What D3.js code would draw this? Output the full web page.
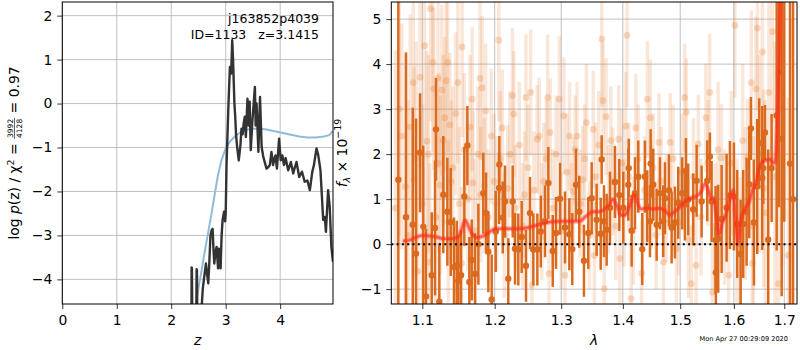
<!DOCTYPE html>
<html>
<head>
<meta charset="utf-8">
<script src="https://cdn.jsdelivr.net/npm/d3@7"></script>
<style>
body { margin: 0; background: #fff; }
svg text { font-family: "DejaVu Sans", sans-serif; }
</style>
</head>
<body>
<div id="chart"></div>
<script>
// ---- left panel: log p(z) and prior ----
const zGrid = [2.36,2.372,2.374,2.38,2.386,2.46,2.466,2.472,2.478,2.55,
  2.58,2.61,2.637,2.66,2.68,2.70,2.72,2.741,2.76,2.775,
  2.79,2.81,2.833,2.86,2.875,2.89,2.906,2.925,2.943,2.97,
  2.99,3.0,3.016,3.047,3.077,3.10,3.12,3.135,3.145,3.16,
  3.175,3.19,3.21,3.24,3.27,3.29,3.31,3.33,3.35,3.37,
  3.40,3.42,3.44,3.46,3.49,3.536,3.55,3.567,3.60,3.63,
  3.66,3.69,3.72,3.75,3.78,3.81,3.84,3.87,3.895,3.915,
  3.94,3.98,4.01,4.04,4.07,4.10,4.147,4.196,4.24,4.27,
  4.30,4.35,4.40,4.45,4.50,4.545,4.59,4.62,4.667,4.70,
  4.74,4.79,4.82,4.84,4.88,4.91,4.94,4.97];
const logPz = [-4.8,-4.8,-3.73,-3.75,-4.8,-4.8,-3.77,-3.8,-4.8,-4.8,
  -4.2,-3.9,-3.64,-3.9,-4.09,-3.6,-3.0,-2.88,-2.85,-3.3,
  -3.64,-3.4,-3.26,-3.75,-3.3,-3.4,-3.75,-3.0,-2.65,-2.46,
  -2.68,-2.5,-1.36,-0.15,0.83,0.68,1.44,1.0,0.6,0.0,
  -0.3,-0.7,-0.99,-1.29,-0.95,-0.57,-0.7,-0.45,-0.30,-0.76,
  0.11,-0.5,0.04,-1.06,-0.4,0.38,-0.5,0.0,-1.1,0.15,
  -0.99,-1.21,-1.35,-1.48,-1.45,-1.40,-1.1,-1.40,-1.25,-1.18,
  -1.48,-0.80,-1.29,-1.18,-1.40,-1.24,-1.52,-1.33,-1.59,-1.45,
  -1.33,-1.67,-1.55,-1.78,-1.75,-1.97,-1.55,-1.40,-1.02,-1.18,
  -1.52,-2.65,-2.58,-2.92,-1.97,-2.35,-3.26,-3.6];

const zPrior = [2.44,2.5,2.55,2.59,2.64,2.68,2.74,2.8,2.86,2.92,3.0,3.08,3.16,3.25,
  3.35,3.45,3.6,3.75,3.9,4.05,4.2,4.35,4.5,4.65,4.8,4.9,4.97];
const logPrior = [-4.7,-4.2,-3.85,-3.55,-3.2,-2.92,-2.5,-2.05,-1.62,-1.3,-1.02,-0.86,-0.76,-0.67,
  -0.61,-0.58,-0.57,-0.59,-0.63,-0.67,-0.71,-0.75,-0.77,-0.77,-0.75,-0.72,-0.62];

const zTicks = [0, 1, 2, 3, 4];
const pzTicks = [-4, -3, -2, -1, 0, 1, 2];

// ---- right panel: spectrum ----
// individual beams (faint)
const beamWave = [1.065,1.070,1.073,1.078,1.081,1.084,1.088,1.089,1.092,1.094,
  1.097,1.100,1.103,1.106,1.108,1.110,1.111,1.114,1.115,1.118,
  1.121,1.122,1.124,1.126,1.128,1.130,1.132,1.134,1.135,1.137,
  1.139,1.141,1.145,1.148,1.150,1.153,1.154,1.157,1.162,1.165,
  1.168,1.169,1.172,1.176,1.179,1.180,1.182,1.185,1.187,1.191,
  1.195,1.199,1.203,1.206,1.208,1.211,1.214,1.219,1.222,1.226,
  1.228,1.230,1.236,1.241,1.244,1.246,1.249,1.253,1.255,1.258,
  1.263,1.266,1.270,1.273,1.277,1.279,1.281,1.283,1.287,1.292,
  1.297,1.300,1.304,1.306,1.309,1.313,1.316,1.319,1.322,1.325,
  1.330,1.334,1.337,1.340,1.345,1.351,1.353,1.355,1.360,1.365,
  1.367,1.369,1.372,1.376,1.380,1.383,1.388,1.393,1.395,1.398,
  1.402,1.405,1.407,1.410,1.414,1.418,1.422,1.426,1.432,1.437,
  1.442,1.447,1.449,1.452,1.457,1.462,1.466,1.470,1.475,1.482,
  1.487,1.493,1.497,1.503,1.508,1.511,1.515,1.520,1.524,1.529,
  1.533,1.538,1.547,1.551,1.554,1.559,1.564,1.570,1.576,1.582,
  1.590,1.595,1.602,1.606,1.612,1.617,1.622,1.627,1.634,1.636,
  1.638,1.643,1.646,1.650,1.656,1.658,1.662,1.669,1.676,1.681,
  1.688,1.695,1.708,1.715];
const beamFlux = [0.8,3.0,2.40,1.28,0.2,2.6,3.59,1.43,1.9,-0.6,
  3.71,0.9,4.41,2.29,2.0,-0.40,5.23,4.04,3.45,0.6,
  3.69,1.8,1.31,3.42,2.3,2.81,3.63,4.04,0.5,2.65,
  1.39,1.7,2.9,3.59,0.9,-0.43,4.38,2.1,1.0,2.6,
  3.22,1.36,0.3,2.0,3.68,1.10,3.47,1.3,2.96,0.6,
  2.4,1.39,0.9,4.53,1.9,2.58,0.2,1.24,2.0,3.30,
  2.89,0.8,2.2,0.4,1.10,3.26,1.7,3.37,-0.91,1.2,
  2.33,2.4,0.5,1.39,1.9,3.26,-0.65,2.48,0.8,2.0,
  3.22,0.3,2.85,-0.69,1.6,2.40,0.6,1.17,2.1,2.40,
  0.9,1.43,1.9,2.70,0.2,2.55,-0.25,1.5,2.2,4.56,
  3.19,-0.99,2.83,1.0,2.3,1.39,0.4,2.33,-0.32,1.8,
  0.7,2.62,4.64,1.5,-1.21,0.3,2.58,1.9,-0.65,1.2,
  3.22,2.81,1.10,1.7,0.2,2.26,1.4,-0.40,0.8,2.26,
  1.9,-0.10,0.5,1.6,3.26,2.93,0.1,-0.88,1.5,-0.47,
  2.22,0.6,2.81,1.8,3.37,-1.07,0.4,2.1,1.92,0.6,
  -0.69,1.8,4.86,0.3,-0.10,2.3,0.9,1.92,3.59,-0.43,
  0.4,3.45,4.80,2.0,4.27,1.24,0.7,3.37,4.72,1.5,
  -0.88,3.0,-0.25,1.0];
const beamErr = [3.5,2.8,2.5,3.0,3.0,2.5,2.2,2.5,2.6,2.4,
  2.0,2.2,2.2,2.0,2.2,2.2,2.5,2.0,1.8,2.0,
  2.0,2.0,2.0,1.9,1.9,1.8,2.0,2.0,1.8,1.6,
  1.8,1.8,1.8,1.8,1.7,1.7,2.0,1.7,1.6,1.6,
  1.6,1.6,1.6,1.5,1.8,1.5,1.6,1.5,1.5,1.5,
  1.5,1.5,1.5,1.8,1.5,1.3,1.4,1.4,1.4,1.5,
  1.4,1.4,1.4,1.4,1.4,1.4,1.4,1.4,1.4,1.3,
  1.2,1.3,1.3,1.3,1.3,1.4,1.3,1.2,1.3,1.3,
  1.4,1.3,1.3,1.3,1.3,1.2,1.2,1.2,1.2,1.2,
  1.2,1.2,1.2,1.3,1.2,1.3,1.2,1.2,1.2,1.5,
  1.3,1.2,1.3,1.2,1.2,1.2,1.2,1.2,1.2,1.2,
  1.2,1.2,1.6,1.2,1.2,1.2,1.2,1.2,1.2,1.2,
  1.3,1.3,1.2,1.2,1.2,1.1,1.2,1.2,1.2,1.1,
  1.2,1.2,1.2,1.3,1.2,1.2,1.3,1.3,1.3,1.3,
  1.1,1.3,1.2,1.4,1.3,1.4,1.4,1.5,1.2,1.5,
  1.5,1.6,1.6,1.6,1.6,1.7,1.7,1.3,1.6,1.8,
  2.0,1.6,1.8,2.2,1.8,2.2,2.5,2.0,2.0,3.0,
  3.0,3.5,3.5,4.0];

// combined spectrum (dark)
const specWave = [1.0687,1.0786,1.0874,1.0917,1.0970,1.1013,1.1049,1.1125,1.1169,1.1182,
  1.1227,1.1281,1.1336,1.1382,1.1427,1.1465,1.1487,1.1524,1.1570,1.1612,
  1.1640,1.1673,1.1720,1.1767,1.1837,1.1876,1.1909,1.1957,1.2015,1.2063,
  1.2067,1.2117,1.2150,1.2198,1.2263,1.2297,1.2346,1.2396,1.2461,1.2521,
  1.2571,1.2632,1.2684,1.2749,1.2800,1.2868,1.2919,1.2981,1.3059,1.3127,
  1.3174,1.3233,1.3285,1.3360,1.3430,1.3485,1.3566,1.3632,1.3648,1.3686,
  1.3730,1.3785,1.3868,1.3940,1.4007,1.4092,1.4100,1.4149,1.4206,1.4262,
  1.4331,1.4377,1.4417,1.4464,1.4476,1.4521,1.4581,1.4639,1.4697,1.4727,
  1.4798,1.4846,1.4905,1.4964,1.5036,1.5085,1.5103,1.5145,1.5236,1.5299,
  1.5391,1.5495,1.5545,1.5577,1.5652,1.5657,1.5701,1.5766,1.5861,1.5924,
  1.6001,1.6064,1.6130,1.6180,1.6247,1.6298,1.6331,1.6390,1.6455,1.6495,
  1.6555,1.6575,1.6609,1.6675,1.6743,1.6845,1.6892,1.6947,1.7000,1.7117,
  1.7180];
const specFlux = [1.43,0.60,0.43,-0.21,2.03,0.39,-1.16,-0.69,0.36,2.55,
  -1.28,1.10,0.72,0.49,-0.51,-0.48,-0.81,-0.69,1.06,2.19,
  -0.84,-0.35,-0.66,0.00,1.13,0.69,-0.17,-1.23,0.28,1.25,
  1.77,0.59,0.95,-0.77,0.95,-0.10,-0.12,0.16,-0.48,0.69,
  -0.12,-0.12,0.28,0.51,1.36,-0.15,0.25,1.01,0.37,0.22,
  -0.11,1.32,0.72,-0.37,0.25,1.02,0.54,0.23,1.88,0.51,
  0.32,0.81,1.38,1.09,0.81,1.32,1.69,0.30,1.13,1.50,
  -0.11,1.50,0.84,0.51,1.79,1.32,0.43,1.13,0.51,1.02,
  1.20,0.37,0.48,0.92,1.13,0.88,1.63,0.99,0.77,1.41,
  0.95,1.41,1.95,0.95,0.09,-0.63,0.12,0.56,0.81,1.09,
  1.06,0.45,-0.22,0.45,0.72,1.33,2.57,0.48,1.28,2.24,
  1.47,1.69,2.48,0.10,1.69,2.86,3.82,2.34,5.5,1.79,
  1.0];
const specErr = [4.5,3.66,2.6,3.0,1.32,1.8,1.5,1.4,1.5,1.14,
  1.3,1.3,1.2,1.2,1.1,1.0,1.0,1.0,1.1,0.88,
  1.0,0.9,0.9,0.9,0.9,0.9,0.9,1.0,0.9,0.8,
  0.63,0.8,0.8,0.9,0.8,0.8,0.8,0.8,0.8,0.8,
  0.8,0.8,0.8,0.8,0.8,0.8,0.8,0.8,0.8,0.8,
  0.8,0.8,0.8,0.8,0.8,0.8,0.8,0.8,0.54,0.8,
  0.8,0.8,0.8,0.8,0.8,0.8,0.65,0.8,0.8,0.8,
  0.8,0.8,0.8,0.8,0.76,0.8,0.8,0.8,0.8,0.8,
  0.8,0.8,0.8,0.8,0.8,0.8,0.73,0.8,0.8,0.8,
  0.8,0.9,0.53,0.9,1.2,1.0,1.2,1.2,1.2,1.2,
  1.2,1.2,1.2,1.2,1.2,1.2,0.70,1.4,1.5,1.0,
  1.6,0.8,0.61,2.0,1.2,3.0,3.0,3.5,5.0,4.5,
  5.0];

// best-fit model
const modelWave = [1.0744,1.0839,1.0926,1.1013,1.1102,1.1191,1.1281,1.1417,1.1487,1.1533,
  1.1580,1.1626,1.1673,1.1744,1.1837,1.1909,1.2005,1.2127,1.2250,1.2373,
  1.2521,1.2672,1.2824,1.2978,1.3134,1.3292,1.3399,1.3505,1.3614,1.3696,
  1.3778,1.3833,1.3890,1.3974,1.4029,1.4114,1.4199,1.4256,1.4314,1.4429,
  1.4516,1.4633,1.4721,1.4810,1.4900,1.4990,1.5081,1.5172,1.5264,1.5324,
  1.5387,1.5448,1.5510,1.5573,1.5617,1.5667,1.5716,1.5780,1.5856,1.5919,
  1.5982,1.6034,1.6078,1.6125,1.6208,1.6292,1.6371,1.6450,1.6503,1.6570,
  1.6704,1.6806,1.6853,1.6894,1.6922,1.7000,1.7200];
const modelFlux = [0.07,0.09,0.16,0.19,0.18,0.16,0.12,0.12,0.18,0.33,
  0.53,0.40,0.24,0.15,0.18,0.25,0.34,0.34,0.34,0.34,
  0.38,0.44,0.49,0.51,0.51,0.51,0.63,0.72,0.72,0.78,
  0.89,1.00,0.89,0.64,0.64,0.85,1.09,0.89,0.78,0.80,
  0.78,0.80,0.75,0.65,0.72,0.82,0.94,1.01,1.05,1.09,
  1.18,1.33,1.22,1.01,1.03,0.63,0.22,0.48,0.70,1.01,
  1.20,0.56,0.00,0.48,0.78,0.93,1.23,1.45,1.73,1.84,
  1.88,1.80,2.48,3.97,5.4,7.5,9.0];

const waveTicks = [1.1, 1.2, 1.3, 1.4, 1.5, 1.6, 1.7];
const fluxTicks = [-1, 0, 1, 2, 3, 4, 5];

// ---- drawing ----
const width = 800, height = 350;
const svg = d3.select('#chart').append('svg')
  .attr('width', width).attr('height', height);

const boxL = {x0: 62.3, x1: 333, y0: 2, y1: 304};
const boxR = {x0: 391.3, x1: 797, y0: 2, y1: 304};

const xL = d3.scaleLinear().domain([0, 4.97]).range([boxL.x0, boxL.x1]);
const yL = d3.scaleLinear().domain([-4.56, 2.31]).range([boxL.y1, boxL.y0]);
const xR = d3.scaleLog().domain([1.0597, 1.7262]).range([boxR.x0, boxR.x1]);
const yR = d3.scaleLinear().domain([-1.33, 5.38]).range([boxR.y1, boxR.y0]);

const defs = svg.append('defs');
function clipFor(id, b) {
  defs.append('clipPath').attr('id', id).append('rect')
    .attr('x', b.x0).attr('y', b.y0).attr('width', b.x1 - b.x0).attr('height', b.y1 - b.y0);
  return 'url(#' + id + ')';
}

function drawGrid(g, x, y, xt, yt, b) {
  g.selectAll('line.gx').data(xt).enter().append('line')
    .attr('x1', d => x(d)).attr('x2', d => x(d)).attr('y1', b.y0).attr('y2', b.y1)
    .style('stroke', '#b0b0b0').style('stroke-width', 0.8);
  g.selectAll('line.gy').data(yt).enter().append('line')
    .attr('x1', b.x0).attr('x2', b.x1).attr('y1', d => y(d)).attr('y2', d => y(d))
    .style('stroke', '#b0b0b0').style('stroke-width', 0.8);
}

function drawAxes(x, y, xt, yt, xfmt, b) {
  const ax = svg.append('g').attr('transform', 'translate(0,' + b.y1 + ')')
    .call(d3.axisBottom(x).tickValues(xt).tickFormat(xfmt).tickSize(5).tickPadding(6));
  const ay = svg.append('g').attr('transform', 'translate(' + b.x0 + ',0)')
    .call(d3.axisLeft(y).tickValues(yt).tickFormat(d3.format('d')).tickSize(5).tickPadding(5));
  [ax, ay].forEach(a => {
    a.select('.domain').remove();
    a.selectAll('line').style('stroke', '#000').style('stroke-width', 0.8);
    a.selectAll('text').style('font-size', '13.9px').style('fill', '#000');
  });
  svg.append('rect').attr('x', b.x0).attr('y', b.y0)
    .attr('width', b.x1 - b.x0).attr('height', b.y1 - b.y0)
    .style('fill', 'none').style('stroke', '#000').style('stroke-width', 1);
}

// left panel
const gL = svg.append('g');
drawGrid(gL, xL, yL, zTicks, pzTicks, boxL);
const plotL = gL.append('g').attr('clip-path', clipFor('clipL', boxL));

const lineL = d3.line().x(d => xL(d[0])).y(d => yL(d[1]));
plotL.append('path').datum(d3.zip(zPrior, logPrior)).attr('d', lineL)
  .style('fill', 'none').style('stroke', '#8fbbd9').style('stroke-width', 2);
plotL.append('path').datum(d3.zip(zGrid, logPz)).attr('d', lineL)
  .style('fill', 'none').style('stroke', '#333').style('stroke-width', 2.4)
  .style('stroke-linejoin', 'round');

drawAxes(xL, yL, zTicks, pzTicks, d3.format('d'), boxL);

svg.append('text').attr('x', 319).attr('y', 23).attr('text-anchor', 'end')
  .style('font-size', '12.5px').text('j163852p4039');
svg.append('text').attr('x', 319).attr('y', 39).attr('text-anchor', 'end')
  .style('font-size', '12.5px').text('ID=1133\u00a0\u00a0\u00a0z=3.1415');

// right panel
const gR = svg.append('g');
drawGrid(gR, xR, yR, waveTicks, fluxTicks, boxR);
const plotR = gR.append('g').attr('clip-path', clipFor('clipR', boxR));

const beams = d3.range(beamWave.length).map(i => ({w: beamWave[i], f: beamFlux[i], e: beamErr[i]}));
plotR.selectAll('line.beam').data(beams).enter().append('line').attr('class', 'beam')
  .attr('x1', d => xR(d.w)).attr('x2', d => xR(d.w))
  .attr('y1', d => yR(d.f - d.e)).attr('y2', d => yR(d.f + d.e))
  .style('stroke', '#e8873f').style('stroke-opacity', 0.2).style('stroke-width', 3.5);
plotR.selectAll('circle.beam').data(beams).enter().append('circle').attr('class', 'beam')
  .attr('cx', d => xR(d.w)).attr('cy', d => yR(d.f)).attr('r', 3.4)
  .style('fill', '#e8873f').style('fill-opacity', 0.3);

const spec = d3.range(specWave.length).map(i => ({w: specWave[i], f: specFlux[i], e: specErr[i]}));
plotR.selectAll('line.spec').data(spec).enter().append('line').attr('class', 'spec')
  .attr('x1', d => xR(d.w)).attr('x2', d => xR(d.w))
  .attr('y1', d => yR(d.f - d.e)).attr('y2', d => yR(d.f + d.e))
  .style('stroke', '#db6a1e').style('stroke-width', 2.5);
plotR.selectAll('circle.spec').data(spec).enter().append('circle').attr('class', 'spec')
  .attr('cx', d => xR(d.w)).attr('cy', d => yR(d.f)).attr('r', 3.2)
  .style('fill', '#db6a1e');

const lineR = d3.line().curve(d3.curveMonotoneX).x(d => xR(d[0])).y(d => yR(d[1]));
const model = d3.zip(modelWave, modelFlux);
plotR.append('path').datum(model).attr('d', lineR)
  .style('fill', 'none').style('stroke', '#ff2a1a').style('stroke-opacity', 0.3).style('stroke-width', 5);
plotR.append('path').datum(model).attr('d', lineR)
  .style('fill', 'none').style('stroke', '#ff2a1a').style('stroke-opacity', 0.6).style('stroke-width', 2.5);

plotR.append('line').attr('x1', boxR.x0).attr('x2', boxR.x1)
  .attr('y1', yR(0)).attr('y2', yR(0))
  .style('stroke', '#000').style('stroke-width', 2).style('stroke-dasharray', '2,3.3');

drawAxes(xR, yR, waveTicks, fluxTicks, d3.format('.1f'), boxR);

// axis labels
svg.append('text').attr('x', (boxL.x0 + boxL.x1) / 2).attr('y', 345).attr('text-anchor', 'middle')
  .style('font-size', '13.9px').style('font-style', 'italic').text('z');
svg.append('text').attr('x', (boxR.x0 + boxR.x1) / 2).attr('y', 345).attr('text-anchor', 'middle')
  .style('font-size', '13.9px').style('font-style', 'italic').text('λ');

// rotated labels built from pieces
function rotatedLabel(cx, cy, pieces) {
  const g = svg.append('g');
  const inner = g.append('g');
  let pos = 0;
  pieces.forEach(p => {
    if (p.frac) {
      const num = inner.append('text').attr('x', pos).attr('y', -6.5).style('font-size', '7.5px').text(p.frac[0]);
      const den = inner.append('text').attr('x', pos).attr('y', 2.5).style('font-size', '7.5px').text(p.frac[1]);
      const w = Math.max(num.node().getComputedTextLength(), den.node().getComputedTextLength());
      num.attr('x', pos + 1);
      den.attr('x', pos + 1);
      inner.append('line').attr('x1', pos).attr('x2', pos + w + 2).attr('y1', -4.5).attr('y2', -4.5)
        .style('stroke', '#000').style('stroke-width', 0.6);
      pos += w + 2;
    } else {
      const t = inner.append('text').attr('x', pos).attr('y', p.dy || 0)
        .style('font-size', (p.size || 13.9) + 'px').text(p.t.replace(/ /g, '\u00a0'));
      if (p.italic) t.style('font-style', 'italic');
      pos += t.node().getComputedTextLength();
    }
  });
  inner.attr('transform', 'translate(' + (-pos / 2) + ',0)');
  g.attr('transform', 'translate(' + cx + ',' + cy + ') rotate(-90)');
}

rotatedLabel(19, 153, [
  {t: 'log '}, {t: 'p', italic: true}, {t: '(z) / χ'}, {t: '2', size: 9.5, dy: -5.5},
  {t: ' = '}, {frac: ['3992', '4128']}, {t: ' = 0.97'}
]);
rotatedLabel(347, 153, [
  {t: 'f', italic: true}, {t: 'λ', italic: true, size: 9.5, dy: 3}, {t: ' × 10'},
  {t: '−19', size: 9.5, dy: -6}
]);

svg.append('text').attr('x', 788).attr('y', 341).attr('text-anchor', 'end')
  .style('font-size', '6.6px').text('Mon Apr 27 00:29:09 2020');
</script>
</body>
</html>
